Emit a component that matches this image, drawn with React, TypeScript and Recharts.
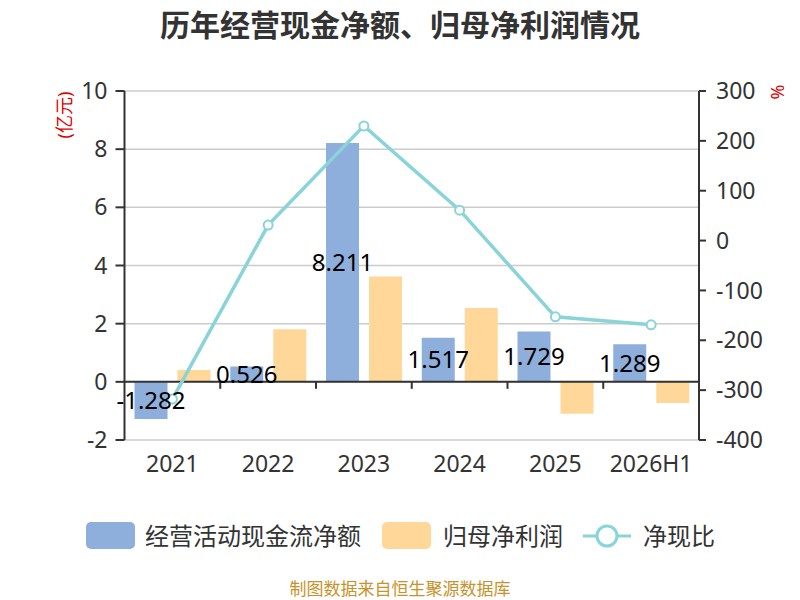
import React from "react";
import {
  ComposedChart,
  Bar,
  Line,
  XAxis,
  YAxis,
  CartesianGrid,
  ReferenceLine,
  LabelList,
} from "recharts";

const years = ["2021", "2022", "2023", "2024", "2025", "2026H1"];
const cashFlow = [-1.282, 0.526, 8.211, 1.517, 1.729, 1.289];
const netProfit = [0.41, 1.81, 3.62, 2.54, -1.1, -0.73];
const cashRatio = [-318, 31, 230, 61, -153, -169];

const leftTicks = [-2, 0, 2, 4, 6, 8, 10];
const rightTicks = [-400, -300, -200, -100, 0, 100, 200, 300];

const BLUE = "#8EAEDB";
const ORANGE = "#FFD899";
const TEAL = "#88D4D8";
const AXIS = "#333333";
const FONT = "'Noto Sans', 'Noto Sans CJK SC', sans-serif";

const data = years.map((year, i) => ({
  year,
  cash: cashFlow[i],
  profit: netProfit[i],
  ratio: cashRatio[i],
}));

// zero line of the category axis, with ticks between categories
function ZeroAxis(props: any) {
  const { x1, x2, y1 } = props;
  const n = years.length;
  const step = (x2 - x1) / n;
  return (
    <g>
      <line x1={x1} y1={y1} x2={x2} y2={y1} stroke={AXIS} strokeWidth={2} />
      {years.map((_, i) => (
        <line
          key={i}
          x1={x1 + step * (i + 1)}
          x2={x1 + step * (i + 1)}
          y1={y1}
          y2={y1 + 7}
          stroke={AXIS}
          strokeWidth={2}
        />
      ))}
    </g>
  );
}

export default function App() {
  return (
    <div
      style={{
        position: "absolute",
        left: 0,
        top: 0,
        width: 800,
        height: 600,
        overflow: "hidden",
        background: "#fff",
        fontFamily: FONT,
      }}
    >
      <div
        style={{
          position: "absolute",
          top: 5,
          width: 800,
          textAlign: "center",
          fontSize: 30,
          lineHeight: "40px",
          fontWeight: "bold",
          color: "#333",
        }}
      >
        历年经营现金净额、归母净利润情况
      </div>

      <ComposedChart
        width={800}
        height={600}
        data={data}
        margin={{ top: 91, right: 0, bottom: 120, left: 0 }}
        barSize={33}
        barGap={10}
        style={{ fontFamily: FONT }}
      >
        <CartesianGrid
          yAxisId="left"
          vertical={false}
          stroke="#CCCCCC"
          strokeWidth={1.5}
        />
        <XAxis
          dataKey="year"
          axisLine={false}
          tickLine={false}
          tickSize={0}
          tickMargin={16}
          height={40}
          interval={0}
          tick={{ fontSize: 23, fill: AXIS }}
        />
        <YAxis
          yAxisId="left"
          domain={[-2, 10]}
          ticks={leftTicks}
          width={124.5}
          tickSize={9}
          tickMargin={8}
          axisLine={{ stroke: AXIS, strokeWidth: 2 }}
          tickLine={{ stroke: AXIS, strokeWidth: 2 }}
          tick={{ fontSize: 23, fill: AXIS }}
        />
        <YAxis
          yAxisId="right"
          orientation="right"
          domain={[-400, 300]}
          ticks={rightTicks}
          width={101}
          tickSize={7}
          tickMargin={10}
          axisLine={{ stroke: AXIS, strokeWidth: 2 }}
          tickLine={{ stroke: AXIS, strokeWidth: 2 }}
          tick={{ fontSize: 23, fill: AXIS }}
        />
        <Bar yAxisId="left" dataKey="cash" fill={BLUE} isAnimationActive={false}>
          <LabelList
            dataKey="cash"
            position="center"
            style={{ fontSize: 24, fill: "#000" }}
          />
        </Bar>
        <Bar yAxisId="left" dataKey="profit" fill={ORANGE} isAnimationActive={false} />
        <ReferenceLine yAxisId="left" y={0} shape={ZeroAxis} />
        <Line
          yAxisId="right"
          dataKey="ratio"
          stroke={TEAL}
          strokeWidth={3.5}
          dot={{ r: 4.5, fill: "#fff", stroke: TEAL, strokeWidth: 2 }}
          isAnimationActive={false}
        />
      </ComposedChart>

      <div
        style={{
          position: "absolute",
          left: 63,
          top: 115,
          transform: "translate(-50%, -50%) rotate(-90deg)",
          fontSize: 18,
          color: "#E00000",
          whiteSpace: "nowrap",
        }}
      >
        (亿元)
      </div>
      <div
        style={{
          position: "absolute",
          left: 777,
          top: 92,
          transform: "translate(-50%, -50%) rotate(-90deg)",
          fontSize: 18,
          color: "#E00000",
        }}
      >
        %
      </div>

      {/* legend */}
      <div style={{ position: "absolute", left: 86, top: 522, width: 49, height: 27, borderRadius: 5, background: BLUE }} />
      <div style={{ position: "absolute", left: 145, top: 519, fontSize: 24, lineHeight: "34px", color: "#333" }}>
        经营活动现金流净额
      </div>
      <div style={{ position: "absolute", left: 382, top: 522, width: 49, height: 27, borderRadius: 5, background: ORANGE }} />
      <div style={{ position: "absolute", left: 443, top: 519, fontSize: 24, lineHeight: "34px", color: "#333" }}>
        归母净利润
      </div>
      <svg style={{ position: "absolute", left: 580, top: 522 }} width={54} height={28}>
        <line x1={3} y1={14} x2={51} y2={14} stroke={TEAL} strokeWidth={3} />
        <circle cx={27} cy={14} r={10} fill="#fff" stroke={TEAL} strokeWidth={3} />
      </svg>
      <div style={{ position: "absolute", left: 643, top: 519, fontSize: 24, lineHeight: "34px", color: "#333" }}>
        净现比
      </div>

      <div
        style={{
          position: "absolute",
          top: 578,
          width: 800,
          textAlign: "center",
          fontSize: 17,
          lineHeight: "22px",
          color: "#C8922A",
        }}
      >
        制图数据来自恒生聚源数据库
      </div>
    </div>
  );
}
